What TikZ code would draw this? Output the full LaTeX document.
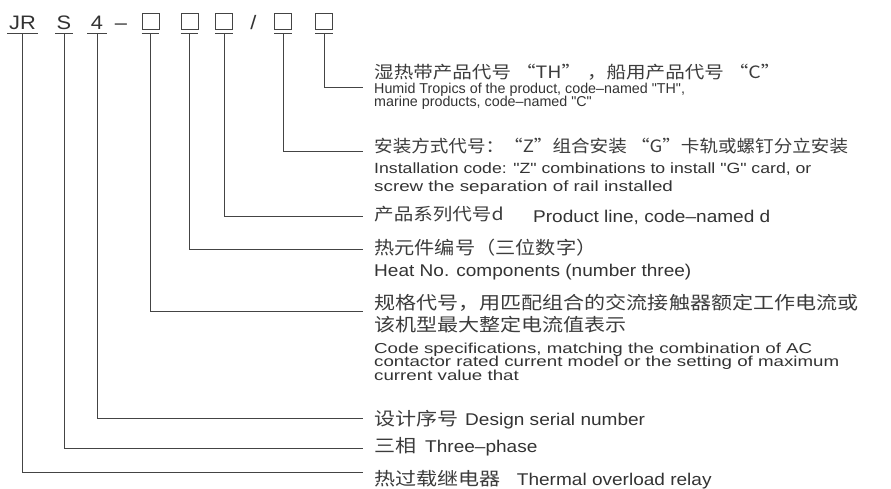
\documentclass[tikz,border=0pt]{standalone}
\usepackage{fontspec}
\setmainfont{Liberation Sans}
\newfontfamily\en{Liberation Sans}
\newfontfamily\enw[FakeStretch=1.12]{Liberation Sans}
\newfontfamily\enx[FakeStretch=1.27]{Liberation Sans}
\newfontfamily\enxx[FakeStretch=1.30]{Liberation Sans}
\newfontfamily\cjk[FakeStretch=1.15]{Noto Sans CJK SC}
\newfontfamily\cjkw[FakeStretch=1.17]{Noto Sans CJK SC}
\definecolor{ink}{HTML}{333333}
\definecolor{zhink}{HTML}{3C3C3C}
\definecolor{wire}{HTML}{444444}
\begin{document}
\begin{tikzpicture}[x=1pt,y=-1pt,
  wirel/.style={draw=wire, line width=0.9pt},
  toplab/.style={inner sep=0, anchor=base, text=ink, text depth=4pt, font=\enw\fontsize{19.5}{19.5}\selectfont},
  codebox/.style={draw=wire, line width=0.9pt, minimum width=17pt, minimum height=16pt, inner sep=0},
  txt/.style={inner sep=0, anchor=base west, text=ink},
  zh/.style={txt, text=zhink, font=\cjk\fontsize{17}{17}\selectfont},
  zhw/.style={txt, text=zhink, font=\cjkw\fontsize{18}{18}\selectfont},
  ena/.style={txt, font=\en\fontsize{14.3}{14.3}\selectfont},
  enb/.style={txt, font=\enx\fontsize{14.8}{14.8}\selectfont},
  end/.style={txt, font=\enxx\fontsize{14.4}{14.4}\selectfont},
  enc/.style={txt, font=\enw\fontsize{17}{17}\selectfont}]
\path[use as bounding box] (0,0) rectangle (891,488);

% top code
\node[toplab, minimum width=30pt] (jr) at (22.5,29) {JR};
\node[toplab, minimum width=17pt] (s) at (64,29) {S};
\node[toplab, minimum width=19pt] (four) at (97,29) {4};
\node[toplab] (dash) at (121,29) {–};
\node[toplab] (slash) at (253.5,29) {/};
\node[codebox] (b1) at (150.5,21) {};
\node[codebox] (b2) at (189.5,21) {};
\node[codebox] (b3) at (224,21) {};
\node[codebox] (b4) at (283,21) {};
\node[codebox] (b5) at (324,21) {};

% underlines
\foreach \n in {jr,s,four}{\draw[wirel] (\n.south west) -- (\n.south east);}
\foreach \n in {b1,b2,b3,b4,b5}{\draw[wirel] ([yshift=-4pt]\n.south west) -- ([yshift=-4pt]\n.south east);}

% connector ends
\coordinate (e5) at (363,87.5);
\coordinate (e4) at (363,151.5);
\coordinate (e3) at (363,216.5);
\coordinate (e2) at (363,249.5);
\coordinate (e1) at (363,311);
\coordinate (e4d) at (363,418);
\coordinate (eS) at (363,448);
\coordinate (eJR) at (363,472.5);

\draw[wirel] ([yshift=-4pt]b5.south) |- (e5);
\draw[wirel] ([yshift=-4pt]b4.south) |- (e4);
\draw[wirel] ([yshift=-4pt]b3.south) |- (e3);
\draw[wirel] ([yshift=-4pt]b2.south) |- (e2);
\draw[wirel] ([yshift=-4pt]b1.south) |- (e1);
\draw[wirel] (four.south) |- (e4d);
\draw[wirel] (s.south) |- (eS);
\draw[wirel] (jr.south) |- (eJR);

% block 1
\node[zh] (t1a) at (374,78.5) {湿热带产品代号\hspace{5pt}“TH”\hspace{6pt}，船用产品代号\hspace{5pt}“C”};
\node[ena] (t1b) at (374,93.5) {Humid Tropics of the product, code–named "TH",};
\node[ena] (t1c) at (374,106) {marine products, code–named "C"};
% block 2
\node[zh] (t2a) at (374,152.5) {\scalebox{0.95}[1]{安装方式代号：“Z”组合安装 “G”卡轨或螺钉分立安装}};
\node[enb] (t2b) at (374,173) {\scalebox{0.94}[1]{Installation code: "Z" combinations to install "G" card, or}};
\node[enb] (t2c) at (374,191) {screw the separation of rail installed};
% block 3
\node[zh] (t3a) at (374,220.5) {产品系列代号d};
\node[enc] (t3b) at (533,222) {Product line, code–named d};
% block 4
\node[zhw] (t4a) at (374,254.5) {\scalebox{0.96}[1]{热元件编号（三位数字）}};
\node[enc] (t4b) at (374,276) {Heat No. components (number three)};
% block 5
\node[zhw] (t5a) at (374,309) {规格代号，用匹配组合的交流接触器额定工作电流或};
\node[zhw] (t5b) at (374,331) {该机型最大整定电流值表示};
\node[end] (t5c) at (374,353) {Code specifications, matching the combination of AC};
\node[end] (t5d) at (374,366.5) {contactor rated current model or the setting of maximum};
\node[end] (t5e) at (374,380) {current value that};
% block 6-8
\node[zhw] (t6a) at (374,425) {设计序号};
\node[enc] (t6b) at (465,425) {Design serial number};
\node[zhw] (t7a) at (374,452.5) {三相};
\node[enc] (t7b) at (425,452.5) {Three–phase};
\node[zhw] (t8a) at (374,485) {热过载继电器};
\node[enc] (t8b) at (516.7,485) {Thermal overload relay};
\end{tikzpicture}
\end{document}
